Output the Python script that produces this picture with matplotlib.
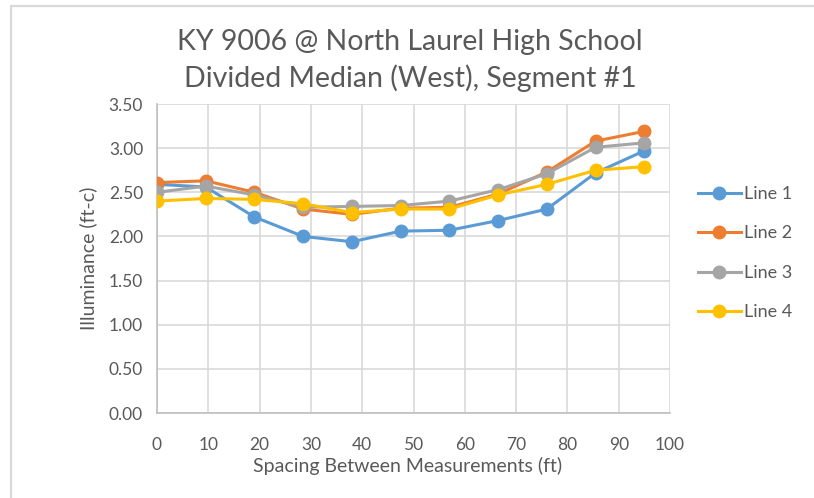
import matplotlib.pyplot as plt
from matplotlib.patches import Rectangle

plt.rcParams['font.family'] = ['Lato', 'DejaVu Sans']

# measurement positions along the segment (ft)
spacing = [0, 9.5, 19, 28.5, 38, 47.5, 57, 66.5, 76, 85.5, 95]

line1 = [2.59, 2.56, 2.22, 2.00, 1.94, 2.06, 2.07, 2.18, 2.31, 2.72, 2.97]
line2 = [2.61, 2.63, 2.50, 2.31, 2.25, 2.32, 2.33, 2.48, 2.73, 3.08, 3.19]
line3 = [2.50, 2.57, 2.47, 2.33, 2.34, 2.35, 2.40, 2.53, 2.71, 3.01, 3.06]
line4 = [2.40, 2.43, 2.42, 2.37, 2.27, 2.31, 2.31, 2.47, 2.59, 2.75, 2.79]

series = [('Line 1', line1, '#5B9BD5'),
          ('Line 2', line2, '#ED7D31'),
          ('Line 3', line3, '#A5A5A5'),
          ('Line 4', line4, '#FFC000')]

text_color = '#595959'
grid_color = '#D9D9D9'

fig = plt.figure(figsize=(8.14, 4.98), dpi=100)
ax = fig.add_axes([157 / 814, 1 - 413 / 498, (670 - 157) / 814, (413 - 104) / 498])

for name, vals, color in series:
    ax.plot(spacing, vals, color=color, lw=2.2, marker='o', markersize=9,
            label=name, zorder=3)

ax.set_xlim(0, 100)
ax.set_ylim(0, 3.5)
ax.set_xticks(range(0, 101, 10))
ax.set_yticks([i * 0.5 for i in range(8)])
ax.set_yticklabels([f'{i * 0.5:.2f}' for i in range(8)])
ax.grid(True, color=grid_color, lw=1.2)
ax.set_axisbelow(True)
for side in ['top', 'right']:
    ax.spines[side].set_visible(False)
for side in ['left', 'bottom']:
    ax.spines[side].set_color('#BFBFBF')
    ax.spines[side].set_linewidth(1.2)
ax.tick_params(length=0, labelsize=12.5, colors=text_color)
ax.tick_params(axis='x', pad=17)
ax.tick_params(axis='y', pad=10)

ax.set_xlabel('Spacing Between Measurements (ft)', fontsize=14, color=text_color,
              va='top')
ax.set_ylabel('Illuminance (ft-c)', fontsize=14, color=text_color)
ax.xaxis.set_label_coords((408 - 157) / 513, (413 - 457) / 309)
ax.yaxis.set_label_coords((97 - 157) / 513, 0.5)

fig.text(410 / 814, 1 - 42 / 498, 'KY 9006 @ North Laurel High School',
         ha='center', va='center', fontsize=20.5, color=text_color)
fig.text(410 / 814, 1 - 78 / 498, 'Divided Median (West), Segment #1',
         ha='center', va='center', fontsize=20.5, color=text_color)

leg = ax.legend(loc='upper left', bbox_to_anchor=(1.04, 0.758), frameon=False,
                fontsize=13, labelcolor=text_color, handlelength=2.4,
                handletextpad=0.15, labelspacing=1.3, borderaxespad=0)

# chart area border
fig.patches.append(Rectangle((11 / 814, -0.1), 1.2, 1 - 6.5 / 498 + 0.1,
                             transform=fig.transFigure, fill=False,
                             edgecolor=grid_color, lw=1.6))

fig.savefig('out.png', dpi=100)
